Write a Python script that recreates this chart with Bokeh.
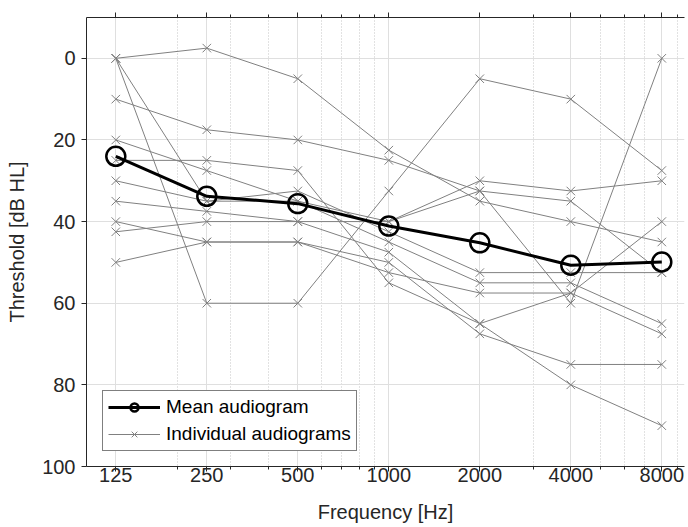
from bokeh.plotting import figure
from bokeh.models import (Range1d, FixedTicker, LogAxis, Legend,
                          LegendItem, NumeralTickFormatter)
from bokeh.embed import file_html
from bokeh.resources import INLINE

# ---------------- data ----------------
freqs = [125, 250, 500, 1000, 2000, 4000, 8000]
freq_labels = ["125", "250", "500", "1000", "2000", "4000", "8000"]
minor_freqs = [200, 300, 400, 600, 700, 800, 900, 3000, 5000, 6000, 7000, 9000]
y_ticks = [0, 20, 40, 60, 80, 100]

mean_audiogram = [24.0, 33.8, 35.6, 41.1, 45.2, 50.7, 49.9]

aud_01 = [0, -2.5, 5, 22.5, 35, 40, 45]
aud_02 = [0, 60, 60, 32.5, 5, 10, 27.5]
aud_03 = [0, 35, 32.5, 42.5, 52.5, 52.5, 52.5]
aud_04 = [10, 17.5, 20, 25, 32.5, 60, 0]
aud_05 = [20, 27.5, 35, 45, 55, 55, 65]
aud_06 = [25, 25, 27.5, 55, 65, 57.5, 40]
aud_07 = [30, 35, 35, 40, 30, 32.5, 30]
aud_08 = [35, 37.5, 40, 40, 32.5, 35, 52.5]
aud_09 = [40, 45, 45, 50, 67.5, 75, 75]
aud_10 = [42.5, 40, 40, 47.5, 65, 80, 90]
aud_11 = [50, 45, 45, 52.5, 57.5, 57.5, 67.5]
individual = [aud_01, aud_02, aud_03, aud_04, aud_05, aud_06,
              aud_07, aud_08, aud_09, aud_10, aud_11]

# ---------------- styling ----------------
FONT = "Liberation Sans"
AX = "#262626"
GRAY = "#808080"

p = figure(width=688, height=527, x_axis_type="log",
           x_range=Range1d(100, 9510), y_range=Range1d(100, -10),
           output_backend="svg", toolbar_location=None,
           min_border_left=86, min_border_top=17, min_border_bottom=61,
           min_border_right=4)
p.outline_line_color = None
p.background_fill_color = "white"
p.border_fill_color = "white"

xticker = FixedTicker(ticks=freqs, minor_ticks=minor_freqs + [500, 1000, 2000, 4000, 8000])
yticker = FixedTicker(ticks=y_ticks, minor_ticks=[])

xa = p.xaxis[0]
xa.ticker = xticker
xa.formatter = NumeralTickFormatter(format="0")
xa.major_label_overrides = {f: l for f, l in zip(freqs, freq_labels)}
xa.axis_label = "Frequency [Hz]"

ya = p.yaxis[0]
ya.ticker = yticker
ya.axis_label = "Threshold [dB HL]"

for ax in (xa, ya):
    ax.axis_line_color = AX
    ax.major_tick_line_color = AX
    ax.minor_tick_line_color = AX
    ax.major_tick_in = 0
    ax.major_tick_out = 5
    ax.minor_tick_in = 0
    ax.minor_tick_out = 3
    ax.major_label_text_font = FONT
    ax.major_label_text_font_size = "20px"
    ax.major_label_text_color = AX
    ax.axis_label_text_font = FONT
    ax.axis_label_text_font_size = "20px"
    ax.axis_label_text_font_style = "normal"
    ax.axis_label_text_color = AX
xa.major_label_standoff = -4
xa.axis_label_standoff = 16
ya.major_label_standoff = 6
ya.axis_label_standoff = 11

top = LogAxis(ticker=xticker, major_label_text_font_size="0px",
              major_label_text_alpha=0, major_label_standoff=0,
              axis_line_color=AX, major_tick_line_color=AX,
              minor_tick_line_color=AX, major_tick_in=0, major_tick_out=5,
              minor_tick_in=0, minor_tick_out=3)
p.add_layout(top, "above")

p.xgrid.grid_line_color = "#dfdfdf"
p.xgrid.minor_grid_line_color = "#c4c4c4"
p.xgrid.minor_grid_line_dash = "1 2"
p.ygrid.grid_line_color = "#dfdfdf"
p.ygrid.minor_grid_line_color = None

ind_renderers = []
for vals in individual:
    l = p.line(freqs, vals, line_color=GRAY, line_width=1)
    m = p.scatter(freqs, vals, marker="x", size=12, line_color=GRAY, line_width=1)
    ind_renderers.append((l, m))

mean_line = p.line(freqs, mean_audiogram, line_color="black", line_width=3)
mean_pts = p.scatter(freqs, mean_audiogram, marker="circle", size=19,
                     fill_color=None, line_color="black", line_width=2.5)

legend = Legend(items=[
    LegendItem(label="Mean audiogram", renderers=[mean_line, mean_pts]),
    LegendItem(label="Individual audiograms", renderers=list(ind_renderers[0])),
], location=(16, 15))
legend.border_line_color = "black"
legend.border_line_width = 1
legend.background_fill_color = "white"
legend.background_fill_alpha = 1
legend.label_text_font = FONT
legend.label_text_font_size = "19px"
legend.label_text_color = "black"
legend.glyph_width = 52
legend.glyph_height = 20
legend.label_height = 20
legend.label_standoff = 6
legend.spacing = 5
legend.padding = 5
legend.margin = 0
p.add_layout(legend, "center")

open("out.html", "w").write(file_html(p, INLINE))
